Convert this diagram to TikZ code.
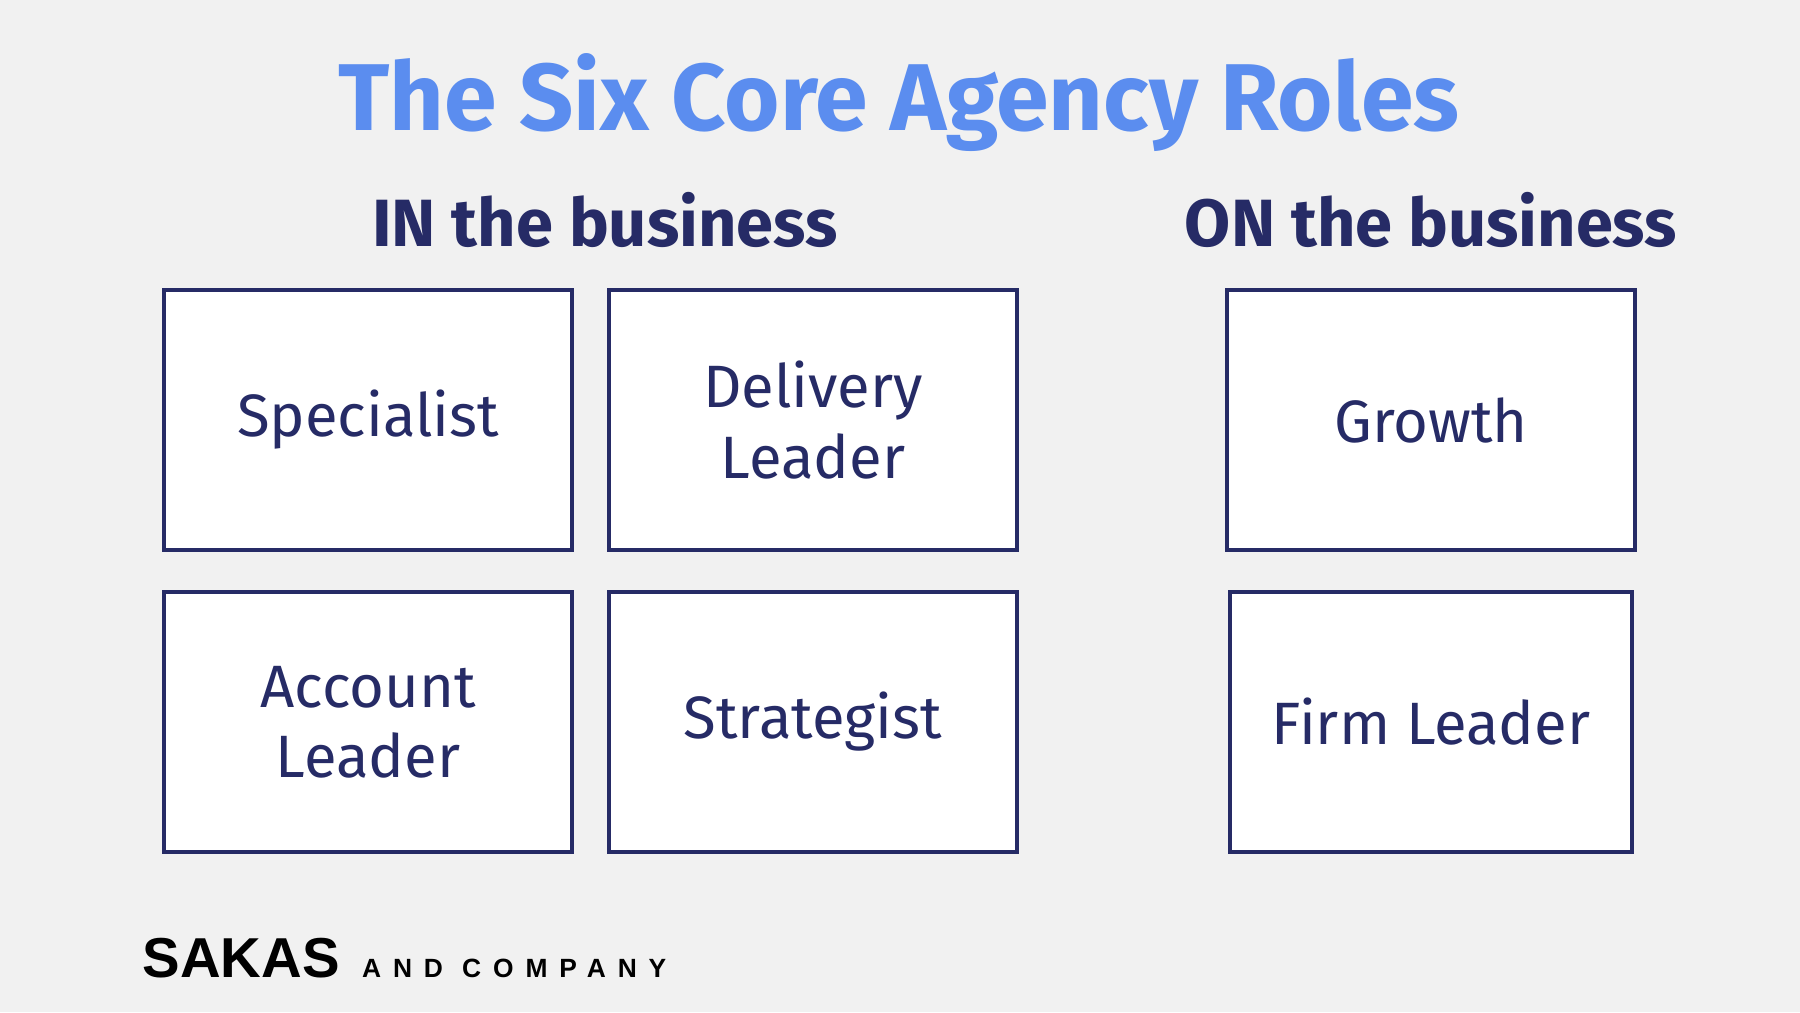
\documentclass[tikz,border=0pt]{standalone}
\usepackage{fontspec}
\setmainfont{Fira Sans}
\newfontfamily\logofont{Liberation Sans}
\usetikzlibrary{positioning}
\definecolor{navy}{HTML}{262B66}
\definecolor{titleblue}{HTML}{5B8DEF}
\definecolor{bg}{HTML}{F1F1F1}

\begin{document}
\begin{tikzpicture}[x=0.01cm, y=-0.01cm]
	\tikzstyle{role}=[draw=navy, line width=1.3pt, fill=white, minimum width=4.08cm, minimum height=2.6cm, align=center, text=navy, font=\fontsize{17}{20}\selectfont];
	\tikzstyle{heading}=[text=navy, font=\fontsize{19}{22}\selectfont\bfseries];

	\fill[bg] (0,0) rectangle (1800,1012);
	\useasboundingbox (0,0) rectangle (1800,1012);

	\node[text=titleblue, font=\fontsize{27}{30}\selectfont\bfseries] (title) at (899,103) {The Six Core Agency Roles};
	\node[heading] (in_head) at (605,220) {IN the business};
	\node[heading] (on_head) at (1431,220) {ON the business};

	\node[role] (specialist) at (368,420) {Specialist};
	\node[role] (delivery) at (813,420) {Delivery\\Leader};
	\node[role] (growth) at (1431,420) {Growth};
	\node[role] (account) at (368,722) {Account\\Leader};
	\node[role] (strategist) at (813,722) {Strategist};
	\node[role, minimum width=4.02cm] (firm) at (1431,722) {Firm Leader};

	\node[anchor=west, inner sep=0pt, font=\logofont\fontsize{16}{18}\selectfont\bfseries] (sakas) at (142,958) {SAKAS};
	\node[right=6pt of sakas.base east, anchor=base west, inner sep=0pt, font=\logofont\fontsize{7.5}{9}\selectfont\bfseries\addfontfeatures{LetterSpace=45}] (company) {AND COMPANY};
\end{tikzpicture}
\end{document}
